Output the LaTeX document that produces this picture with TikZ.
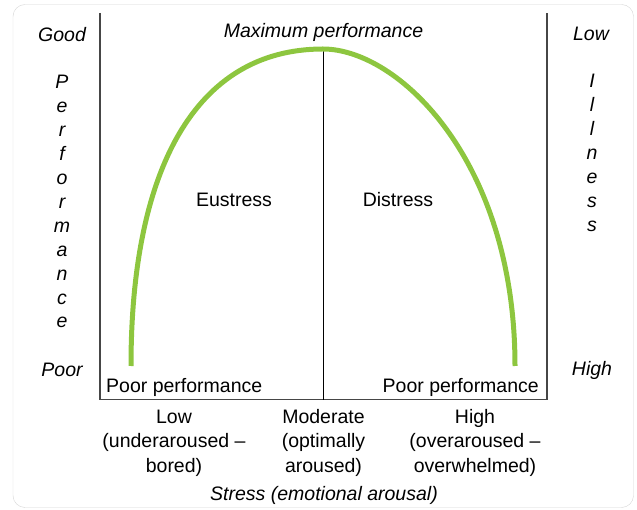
\documentclass[tikz,border=0pt]{standalone}
\usepackage{fontspec}
\setmainfont{Liberation Sans}
\definecolor{G}{RGB}{141, 198, 63}
\definecolor{A}{RGB}{70, 70, 70}
\definecolor{F}{RGB}{212, 212, 212}

\begin{document}
\begin{tikzpicture}[x=1pt,y=-1pt,
  lbl/.style={font=\fontsize{19.5}{24.5}\selectfont, inner sep=0pt, anchor=base, align=center},
  ital/.style={lbl, font=\fontsize{19.5}{24.5}\selectfont\itshape}]
  \useasboundingbox (0,0) rectangle (637,510);

  %# MARCO
  \draw[F, rounded corners=12pt] (13,4.5) rectangle (633.5,507.5);

  %# EJES
  \coordinate (topL) at (100,13);
  \coordinate (botL) at (100,399.5);
  \coordinate (botR) at (547,399.5);
  \coordinate (topR) at (547,13);
  \coordinate (peak) at (323,49);
  \coordinate (midB) at (323,399.5);
  \draw[A, line width=1.5pt] (topL) -- (botL) -- (botR) -- (topR);
  \draw[black, line width=0.9pt] (peak) -- (midB);

  %# CURVA
  \coordinate (startL) at (131,366);
  \coordinate (endR) at (515,366);
  \draw[G, line width=5pt] (startL) .. controls (131,170) and (195,49) .. (peak)
    .. controls (398,49) and (515,160) .. (endR);

  %# EJE VERTICAL IZQUIERDO
  \node[ital] (good) at (62,41.5) {Good};
  \foreach \l [count=\i from 0] in {P,e,r,f,o,r,m,a,n,c,e}
    \node[ital] (perf\i) at (62,89+23.9*\i) {\l};
  \node[ital] (poor) at (62,377) {Poor};

  %# EJE VERTICAL DERECHO
  \node[ital] (low) at (591,40.5) {Low};
  \foreach \l [count=\i from 0] in {I,l,l,n,e,s,s}
    \node[ital] (ill\i) at (592,88+24*\i) {\l};
  \node[ital] (high) at (592,375) {High};

  %# DENTRO DEL GRAFICO
  \node[ital] (maxperf) at (323.5,37.5) {Maximum performance};
  \node[lbl] (eus) at (234,207) {Eustress};
  \node[lbl] (dis) at (398,207) {Distress};
  \node[lbl, anchor=base west] (poorL) at (106,392) {Poor performance};
  \node[lbl, anchor=base east] (poorR) at (539,392) {Poor performance};

  %# EJE HORIZONTAL
  \node[lbl] (lowS) at (174,472) {Low\\(underaroused –\\bored)};
  \node[lbl] (modS) at (323.5,472) {Moderate\\(optimally\\aroused)};
  \node[lbl] (highS) at (475,472) {High\\(overaroused –\\overwhelmed)};
  \node[ital] (stress) at (324,500) {Stress (emotional arousal)};
\end{tikzpicture}
\end{document}
